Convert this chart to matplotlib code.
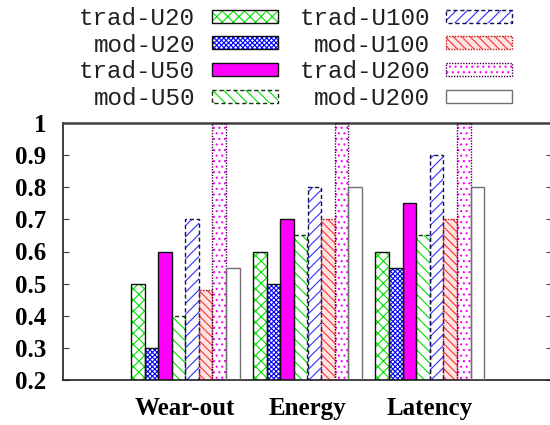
import matplotlib
matplotlib.use("Agg")
import matplotlib.pyplot as plt
from matplotlib.patches import Rectangle
import numpy as np

# ---- data -------------------------------------------------------------
categories = ["Wear-out", "Energy", "Latency"]
series = ["trad-U20", "mod-U20", "trad-U50", "mod-U50",
          "trad-U100", "mod-U100", "trad-U200", "mod-U200"]
trad_u20 = [0.50, 0.60, 0.60]
mod_u20 = [0.30, 0.50, 0.55]
trad_u50 = [0.60, 0.70, 0.75]
mod_u50 = [0.40, 0.65, 0.65]
trad_u100 = [0.70, 0.80, 0.90]
mod_u100 = [0.48, 0.70, 0.70]
trad_u200 = [1.00, 1.00, 1.00]
mod_u200 = [0.55, 0.80, 0.80]
values = [trad_u20, mod_u20, trad_u50, mod_u50,
          trad_u100, mod_u100, trad_u200, mod_u200]
yticks = [0.2, 0.3, 0.4, 0.5, 0.6, 0.7, 0.8, 0.9, 1.0]
ytick_labels = ["0.2", "0.3", "0.4", "0.5", "0.6", "0.7", "0.8", "0.9", "1"]

# ---- styles (face, hatch colour, hatch, border colour, border style) --
styles = [
    dict(face="white", hcol="#00e000", hatch="xxx", ecol="#101010", ls="-"),
    dict(face="white", hcol="#0000ff", hatch="xxxxxxx", ecol="#101010", ls="-"),
    dict(face="#ff00ff", hcol="#ff00ff", hatch=None, ecol="#101010", ls="-"),
    dict(face="white", hcol="#00dd00", hatch="\\\\\\", ecol="#103010", ls=(0, (3, 2))),
    dict(face="white", hcol="#3030ff", hatch="///", ecol="#101050", ls=(0, (3, 2))),
    dict(face="#ffe4e4", hcol="#ff3030", hatch="\\\\\\\\", ecol="#c01010", ls=(0, (1, 1))),
    dict(face="white", hcol="#ff00ff", hatch="...", ecol="#400040", ls=(0, (1, 1))),
    dict(face="white", hcol="white", hatch=None, ecol="#707070", ls="-"),
]

plt.rcParams["hatch.linewidth"] = 0.8

W, H = 550, 425
fig = plt.figure(figsize=(W / 100, H / 100), dpi=100)
ax = fig.add_axes([63 / W, 45 / H, 489 / W, 257 / H])

n = len(series)
width = 1.0 / (n + 1)
x = np.arange(len(categories))

for i, (vals, st) in enumerate(zip(values, styles)):
    pos = x + (i - (n - 1) / 2) * width
    heights = np.array(vals) - 0.2
    ax.bar(pos, heights, width=width, bottom=0.2, color=st["face"],
           edgecolor=st["hcol"], hatch=st["hatch"], linewidth=0, zorder=2)
    ax.bar(pos, heights, width=width, bottom=0.2, fill=False,
           edgecolor=st["ecol"], linewidth=1.0, linestyle=st["ls"], zorder=3)

ax.set_xlim(-1, 3)
ax.set_ylim(0.2, 1.0)
ax.set_yticks(yticks)
ax.set_yticklabels(ytick_labels)
ax.set_xticks(x)
ax.set_xticklabels(categories)

for lab in ax.get_yticklabels() + ax.get_xticklabels():
    lab.set_fontfamily("Liberation Serif")
    lab.set_fontweight("bold")
    lab.set_fontsize(18)

ax.tick_params(axis="y", direction="in", length=4, width=0.8, color="#404040",
               left=True, right=True, pad=12)
ax.tick_params(axis="x", length=0, pad=12)
for side in ["left", "bottom", "right"]:
    ax.spines[side].set_linewidth(1.2)
    ax.spines[side].set_color("#202020")
ax.spines["top"].set_linewidth(1.8)
ax.spines["top"].set_color("#404040")

# ---- key (labels right-aligned, sample box to the right) --------------
key = fig.add_axes([0, 0, 1, 1])
key.set_xlim(0, W)
key.set_ylim(H, 0)
key.axis("off")

text_right = [195, 430]
box_left = [212, 446]
box_w, box_h = 66, 13
baselines = [25, 51.5, 78, 104.5]
box_tops = [9.5, 36, 63, 89.5]

for i, (name, st) in enumerate(zip(series, styles)):
    col, row = divmod(i, 4)
    key.text(text_right[col], baselines[row], name, ha="right", va="baseline",
             family="Liberation Mono", fontsize=17.5, color="#202020")
    bx, by = box_left[col], box_tops[row]
    key.add_patch(Rectangle((bx, by), box_w, box_h, facecolor=st["face"],
                            edgecolor=st["hcol"], hatch=st["hatch"], linewidth=0))
    key.add_patch(Rectangle((bx, by), box_w, box_h, fill=False,
                            edgecolor=st["ecol"], linewidth=1.0, linestyle=st["ls"]))

fig.savefig("out.png", dpi=100)
